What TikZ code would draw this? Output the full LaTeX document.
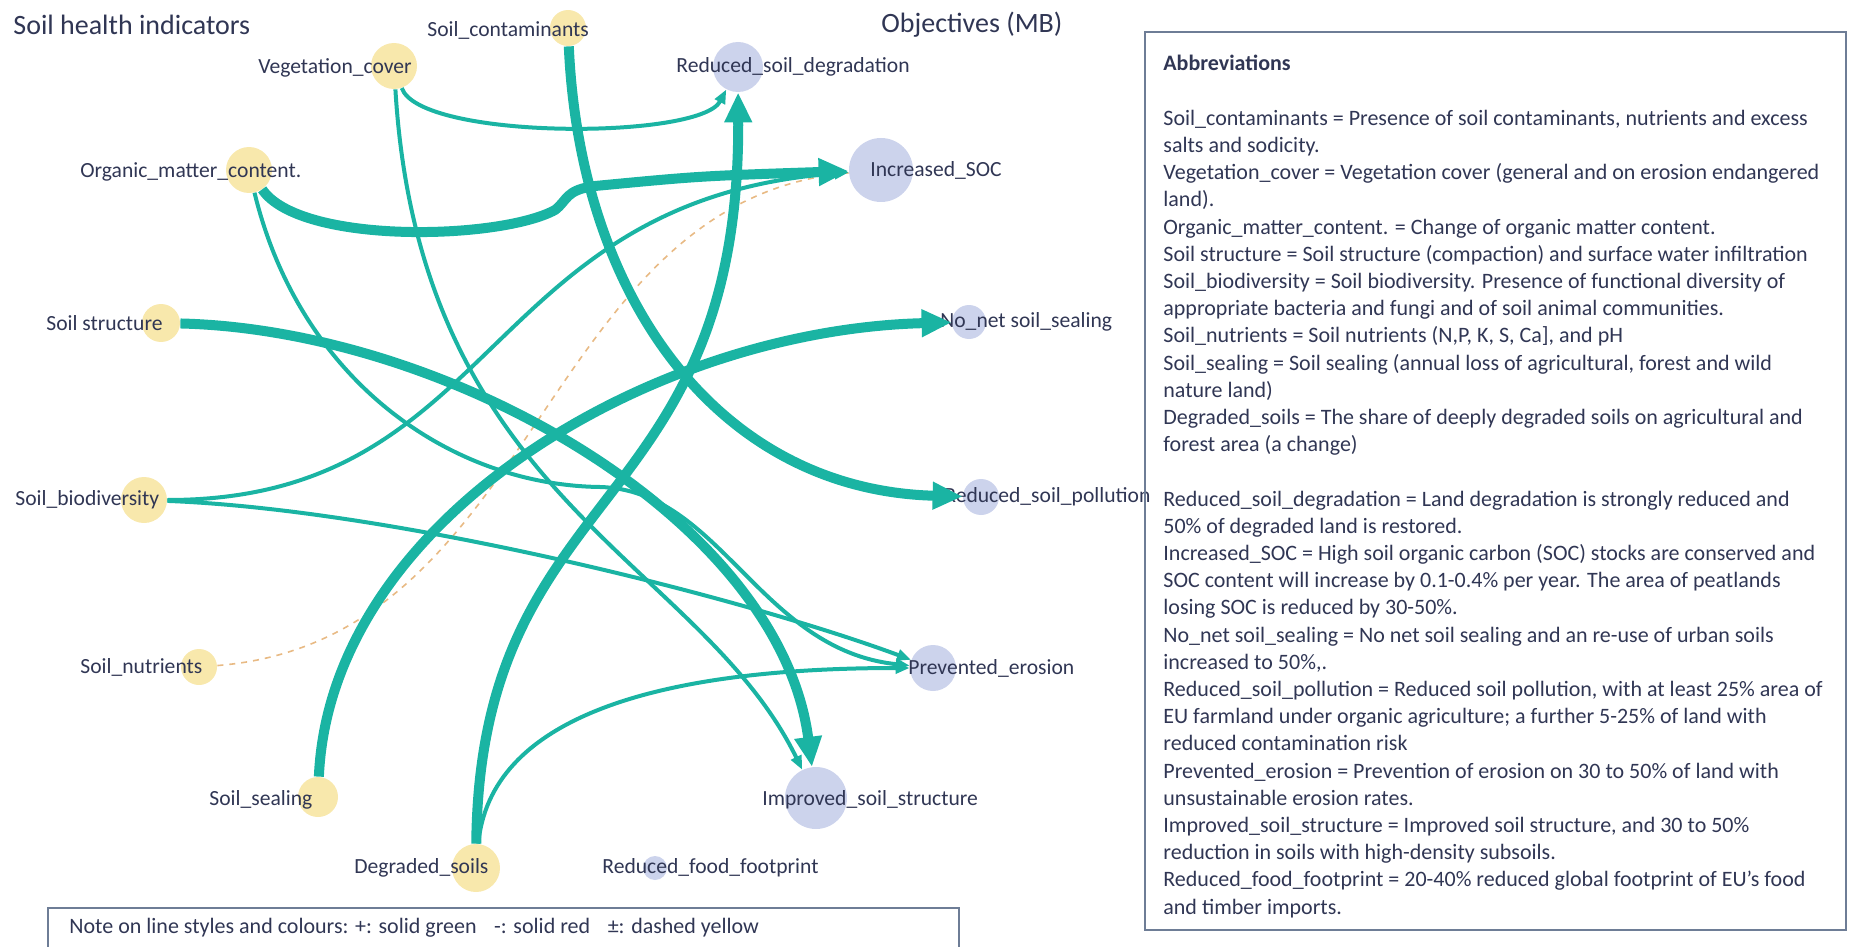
\documentclass[tikz,border=0pt]{standalone}
\usepackage{fontspec}
\setmainfont{Carlito}
\usetikzlibrary{arrows.meta}
\definecolor{indfill}{RGB}{248,232,172}
\definecolor{objfill}{RGB}{204,211,236}
\definecolor{link}{RGB}{26,180,163}
\definecolor{dashlink}{RGB}{232,186,132}
\definecolor{lbltext}{RGB}{48,54,84}
\definecolor{boxline}{RGB}{110,125,150}
\tikzset{
ind/.style={circle, fill=indfill, inner sep=0pt, minimum size=#1},
obj/.style={circle, fill=objfill, inner sep=0pt, minimum size=#1},
lbl/.style={anchor=west, inner sep=0pt, text=lbltext, font=\fontsize{10.8}{13}\selectfont},
heading/.style={anchor=west, inner sep=0pt, text=lbltext, font=\fontsize{14}{17}\selectfont},
strong/.style={draw=link, line width=5pt, -{Triangle[length=15pt,width=13pt]}},
weak/.style={draw=link, line width=2pt, -{Triangle[length=7pt,width=5.5pt]}},
mixedlink/.style={draw=dashlink, line width=0.8pt, dashed},
frame/.style={draw=boxline, line width=1.25pt}
}

\begin{document}
\begin{tikzpicture}[x=0.5pt, y=-0.5pt]
\useasboundingbox (0,0) rectangle (1849,947);

\node[heading] (lefthead) at (13,25) {Soil health indicators};
\node[heading] (righthead) at (881,25) {Objectives (MB)};

\node[ind=18pt] (contam) at (568,28) {};
\node[ind=23pt] (veg) at (394,66) {};
\node[ind=23pt] (organic) at (249,170) {};
\node[ind=19pt] (struct) at (161,323) {};
\node[ind=23pt] (biodiv) at (144,500) {};
\node[ind=18pt] (nutr) at (199,667) {};
\node[ind=20pt] (sealing) at (318,797) {};
\node[ind=24pt] (degraded) at (476,868) {};

\node[obj=25pt] (degradation) at (738,67) {};
\node[obj=32pt] (soc) at (881,170) {};
\node[obj=17pt] (nonet) at (969,322) {};
\node[obj=18pt] (pollution) at (981,497) {};
\node[obj=23pt] (erosion) at (933,668) {};
\node[obj=31pt] (improved) at (816,798) {};
\node[obj=12pt] (food) at (655,868) {};

\node[lbl] (contamlbl) at (427,30) {Soil\_contaminants};
\node[lbl] (veglbl) at (258,68) {Vegetation\_cover};
\node[lbl] (organiclbl) at (80,172) {Organic\_matter\_content.};
\node[lbl] (structlbl) at (46,323) {Soil structure};
\node[lbl] (biodivlbl) at (15,500) {Soil\_biodiversity};
\node[lbl] (nutrlbl) at (80,667) {Soil\_nutrients};
\node[lbl] (sealinglbl) at (209,800) {Soil\_sealing};
\node[lbl] (degradedlbl) at (354,868) {Degraded\_soils};
\node[lbl] (degradationlbl) at (676,67) {Reduced\_soil\_degradation};
\node[lbl] (soclbl) at (870,170) {Increased\_SOC};
\node[lbl] (nonetlbl) at (940,322) {No\_net soil\_sealing};
\node[lbl] (pollutionlbl) at (944,497) {Reduced\_soil\_pollution};
\node[lbl] (erosionlbl) at (908,668) {Prevented\_erosion};
\node[lbl] (improvedlbl) at (762,800) {Improved\_soil\_structure};
\node[lbl] (foodlbl) at (602,868) {Reduced\_food\_footprint};

\draw[mixedlink] (nutr) .. controls (540,640) and (540,200) .. (soc);
\draw[weak] (veg) .. controls (420,140) and (700,140) .. (degradation);
\draw[weak] (veg) .. controls (420,500) and (700,560) .. (improved);
\draw[weak] (organic) .. controls (300,380) and (450,485) .. (600,487)
      .. controls (720,490) and (760,650) .. (erosion);
\draw[weak] (biodiv) .. controls (500,500) and (480,200) .. (soc);
\draw[weak] (biodiv) .. controls (400,510) and (750,600) .. (erosion);
\draw[weak] (degraded) .. controls (490,720) and (650,668) .. (erosion);
\draw[strong] (contam) .. controls (580,300) and (720,490) .. (pollution);
\draw[strong] (organic) .. controls (300,245) and (500,240) .. (555,210)
      .. controls (568,200) and (565,190) .. (595,186)
      .. controls (700,176) .. (soc);
\draw[strong] (struct) .. controls (450,330) and (780,520) .. (improved);
\draw[strong] (sealing) .. controls (330,520) and (650,330) .. (nonet);
\draw[strong] (degraded) .. controls (480,480) and (740,520) .. (degradation);

\draw[frame] (48,947) -- (48,908) -- (959,908) -- (959,947);
\node[anchor=west, inner sep=0pt, text=lbltext, font=\fontsize{11}{13.6}\selectfont]
  (note) at (69,928) {Note on line styles and colours: +: solid green\hspace{0.8em}-: solid red\hspace{0.8em}±: dashed yellow};

\draw[frame] (1145,32) rectangle (1846,930);
\node[anchor=north west, align=left, inner sep=0pt, text=lbltext, font=\fontsize{11}{13.6}\selectfont]
  (abbrev) at (1163,55) {\textbf{Abbreviations}\\[13.6pt]
Soil\_contaminants = Presence of soil contaminants, nutrients and excess\\
salts and sodicity.\\
Vegetation\_cover = Vegetation cover (general and on erosion endangered\\
land).\\
Organic\_matter\_content. = Change of organic matter content.\\
Soil structure = Soil structure (compaction) and surface water infiltration\\
Soil\_biodiversity = Soil biodiversity. Presence of functional diversity of\\
appropriate bacteria and fungi and of soil animal communities.\\
Soil\_nutrients = Soil nutrients (N,P, K, S, Ca], and pH\\
Soil\_sealing = Soil sealing (annual loss of agricultural, forest and wild\\
nature land)\\
Degraded\_soils = The share of deeply degraded soils on agricultural and\\
forest area (a change)\\[13.6pt]
Reduced\_soil\_degradation = Land degradation is strongly reduced and\\
50\% of degraded land is restored.\\
Increased\_SOC = High soil organic carbon (SOC) stocks are conserved and\\
SOC content will increase by 0.1-0.4\% per year. The area of peatlands\\
losing SOC is reduced by 30-50\%.\\
No\_net soil\_sealing = No net soil sealing and an re-use of urban soils\\
increased to 50\%,.\\
Reduced\_soil\_pollution = Reduced soil pollution, with at least 25\% area of\\
EU farmland under organic agriculture; a further 5-25\% of land with\\
reduced contamination risk\\
Prevented\_erosion = Prevention of erosion on 30 to 50\% of land with\\
unsustainable erosion rates.\\
Improved\_soil\_structure = Improved soil structure, and 30 to 50\%\\
reduction in soils with high-density subsoils.\\
Reduced\_food\_footprint = 20-40\% reduced global footprint of EU's food\\
and timber imports.};
\end{tikzpicture}
\end{document}
